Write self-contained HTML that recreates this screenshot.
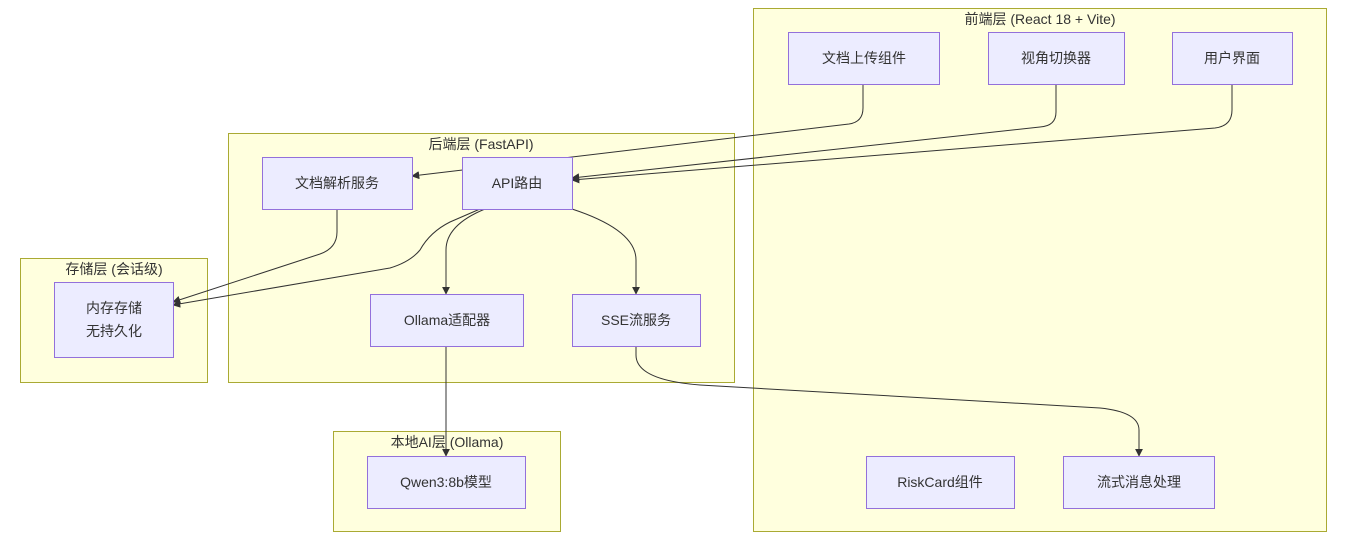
<!DOCTYPE html>
<html><head><meta charset="utf-8"><style>
html,body{margin:0;padding:0;background:#fff;}
svg text{font-family:"Liberation Sans","Noto Sans CJK SC",sans-serif;font-size:14px;fill:#333;}
</style></head><body>
<svg width="1346" height="540" viewBox="0 0 1346 540" xmlns="http://www.w3.org/2000/svg">
<defs><marker id="a" viewBox="0 0 10 10" refX="9" refY="5" markerWidth="8" markerHeight="8" orient="auto"><path d="M0,0L10,5L0,10z" fill="#333"/></marker></defs>
<g fill="#ffffde" stroke="#aaaa33" stroke-width="1">
<rect x="753.5" y="8.5" width="573" height="523"/>
<rect x="228.5" y="133.5" width="506" height="249"/>
<rect x="20.5" y="258.5" width="187" height="124"/>
<rect x="333.5" y="431.5" width="227" height="100"/>
</g>
<g text-anchor="middle">
<text x="1040" y="24">前端层 (React 18 + Vite)</text>
<text x="481" y="149">后端层 (FastAPI)</text>
<text x="114" y="274">存储层 (会话级)</text>
<text x="447" y="447">本地AI层 (Ollama)</text>
</g>
<g fill="none" stroke="#333" stroke-width="1">
<path d="M863,84 V108 Q863,122 849,124 L412,176" marker-end="url(#a)"/>
<path d="M1056,84 V112 Q1056,126 1040,127 L572,178" marker-end="url(#a)"/>
<path d="M1232,84 V110 Q1232,126 1215,128 L572,180" marker-end="url(#a)"/>
<path d="M337,209 V232 Q337,248 320,254 L173,302" marker-end="url(#a)"/>
<path d="M480,209 L450,222 Q430,232 420,250 Q410,262 390,268 L173,305" marker-end="url(#a)"/>
<path d="M485,209 Q446,225 446,250 V294" marker-end="url(#a)"/>
<path d="M572,209 Q636,230 636,260 V294" marker-end="url(#a)"/>
<path d="M446,346 V456" marker-end="url(#a)"/>
<path d="M636,346 V355 Q636,380 700,385 L1100,408 Q1139,412 1139,430 V456" marker-end="url(#a)"/>
</g>
<g fill="#ececff" stroke="#9370db" stroke-width="1">
<rect x="788.5" y="32.5" width="151" height="52"/>
<rect x="988.5" y="32.5" width="136" height="52"/>
<rect x="1172.5" y="32.5" width="120" height="52"/>
<rect x="262.5" y="157.5" width="150" height="52"/>
<rect x="462.5" y="157.5" width="110" height="52"/>
<rect x="370.5" y="294.5" width="153" height="52"/>
<rect x="572.5" y="294.5" width="128" height="52"/>
<rect x="54.5" y="282.5" width="119" height="75"/>
<rect x="367.5" y="456.5" width="158" height="52"/>
<rect x="866.5" y="456.5" width="148" height="52"/>
<rect x="1063.5" y="456.5" width="151" height="52"/>
</g>
<g text-anchor="middle">
<text x="864" y="63">文档上传组件</text>
<text x="1056" y="63">视角切换器</text>
<text x="1232" y="63">用户界面</text>
<text x="337" y="188">文档解析服务</text>
<text x="517" y="188">API路由</text>
<text x="447" y="325">Ollama适配器</text>
<text x="636" y="325">SSE流服务</text>
<text x="114" y="313">内存存储</text>
<text x="114" y="336">无持久化</text>
<text x="446" y="487">Qwen3:8b模型</text>
<text x="940" y="487">RiskCard组件</text>
<text x="1139" y="487">流式消息处理</text>
</g>
</svg>
</body></html>
